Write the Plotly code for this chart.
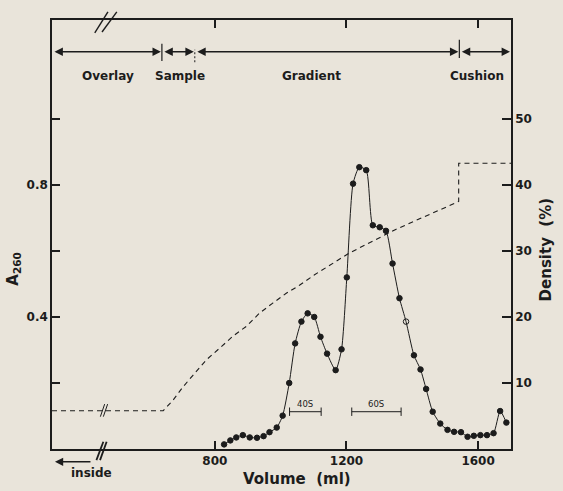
import plotly.graph_objects as go

# ---- data ----
volume = [828, 847, 865, 885, 906, 928, 948, 966, 988, 1006,
          1026, 1044, 1063, 1082, 1102, 1121, 1141, 1167, 1185, 1201,
          1220, 1239, 1260, 1280, 1301, 1320, 1340, 1361, 1381, 1405,
          1425, 1442, 1462, 1485, 1507, 1527, 1548, 1568, 1587, 1607,
          1627, 1647, 1667, 1686]
a260 = [0.014, 0.026, 0.035, 0.042, 0.035, 0.034, 0.039, 0.051, 0.065, 0.101,
        0.200, 0.320, 0.386, 0.411, 0.400, 0.340, 0.289, 0.239, 0.302, 0.520,
        0.804, 0.854, 0.845, 0.678, 0.672, 0.661, 0.562, 0.457, 0.386, 0.284,
        0.241, 0.182, 0.113, 0.077, 0.058, 0.052, 0.051, 0.037, 0.040, 0.042,
        0.042, 0.048, 0.115, 0.080]
open_point = 1381  # the one hollow marker

density_volume = [305, 643, 673, 703, 734, 774, 815, 855, 896, 936, 976,
                  1017, 1057, 1103, 1209, 1351, 1541, 1541, 1700]
density = [5.8, 5.8, 7.4, 9.4, 11.2, 13.5, 15.3, 17.1, 18.6, 20.6, 22.1,
           23.6, 24.8, 26.4, 29.7, 33.3, 37.5, 43.3, 43.3]

region_names = ["Overlay", "Sample", "Gradient", "Cushion"]
region_bounds = [305, 639, 739, 1543, 1700]
region_label_x = [475, 693, 1094, 1596]

marker_40S = [1027, 1123]
marker_60S = [1216, 1366]
marker_level = 0.113

x_ticks = [800, 1200, 1600]
y_ticks = [0.2, 0.4, 0.6, 0.8, 1.0]
y_ticktext = ["", "0.4", "", "0.8", ""]
y2_ticks = [10, 20, 30, 40, 50]

X_RANGE = [305, 1700]
Y_RANGE = [0, 1.3]
Y2_RANGE = [0, 65]

INK = "#1c1c1c"
PAPER = "#e9e4da"
TICKFONT = dict(family="DejaVu Sans", size=12, color=INK, weight="bold")

fig = go.Figure()

# density (dashed, right axis)
fig.add_trace(go.Scatter(x=density_volume, y=density, yaxis="y2", mode="lines",
                         line=dict(color=INK, width=1.1, dash="5px,4px"),
                         hoverinfo="skip", showlegend=False))

# A260 profile
symbols = ["circle-open" if v == open_point else "circle" for v in volume]
fig.add_trace(go.Scatter(x=volume, y=a260, mode="lines+markers",
                         line=dict(color=INK, width=1, shape="spline", smoothing=0.6),
                         marker=dict(size=5.5, color=INK, symbol=symbols,
                                     line=dict(width=1, color=INK)),
                         showlegend=False))

# 40S / 60S markers
for xs, lab in [(marker_40S, "40S"), (marker_60S, "60S")]:
    fig.add_trace(go.Scatter(x=xs, y=[marker_level] * 2, mode="lines+markers",
                             line=dict(color=INK, width=1),
                             marker=dict(symbol="line-ns", size=6,
                                         line=dict(width=1, color=INK)),
                             showlegend=False, hoverinfo="skip"))
    fig.add_annotation(x=sum(xs) / 2, y=marker_level, yshift=8, text=lab,
                       showarrow=False, font=dict(family="DejaVu Sans", size=8.5, color=INK))

annotations = []
shapes = []
ARROW_Y = 1.204
# region arrows
for i in range(4):
    a0, a1 = region_bounds[i], region_bounds[i + 1]
    annotations.append(dict(x=a1, y=ARROW_Y, ax=a0, ay=ARROW_Y, xref="x", yref="y",
                            axref="x", ayref="y", showarrow=True, text="",
                            arrowhead=2, startarrowhead=2, arrowside="end+start",
                            arrowsize=1.2, startarrowsize=1.2, arrowwidth=1.4,
                            arrowcolor=INK, standoff=1, startstandoff=1))
    annotations.append(dict(x=region_label_x[i], y=1.13, xref="x", yref="y",
                            text=region_names[i], showarrow=False,
                            font=dict(family="DejaVu Sans", size=12, color=INK, weight="bold")))
# boundary ticks
shapes.append(dict(type="line", xref="x", yref="y", x0=639, x1=639, y0=1.176, y1=1.228,
                   line=dict(color=INK, width=1.2)))
shapes.append(dict(type="line", xref="x", yref="y", x0=739, x1=739, y0=1.172, y1=1.21,
                   line=dict(color=INK, width=1, dash="2px,2px")))
shapes.append(dict(type="line", xref="x", yref="y", x0=1543, x1=1543, y0=1.185, y1=1.24,
                   line=dict(color=INK, width=1.2)))

# axis breaks
for (x0, x1, y0, y1, w) in [(435, 475, 0.970, 1.019, 1.4), (457, 502, 0.972, 1.019, 1.4),
                            (440, 461, -0.026, 0.017, 1.8), (451, 471, -0.026, 0.017, 1.8)]:
    shapes.append(dict(type="line", xref="x", yref="paper", x0=x0, x1=x1, y0=y0, y1=y1,
                       line=dict(color=INK, width=w)))
for (x0, x1) in [(452, 465), (461, 474)]:
    shapes.append(dict(type="line", xref="x", yref="y2", x0=x0, x1=x1, y0=4.9, y1=6.8,
                       line=dict(color=INK, width=1)))

# "inside" arrow
annotations.append(dict(x=314, y=-0.03, ax=37, ay=0, xref="x", yref="paper",
                        showarrow=True, text="", arrowhead=2, arrowsize=1.1,
                        arrowwidth=1.5, arrowcolor=INK))
annotations.append(dict(x=0.085, y=-0.056, xref="paper", yref="paper", text="inside",
                        showarrow=False, xanchor="center", yanchor="middle",
                        font=dict(family="DejaVu Sans", size=12, color=INK, weight="bold")))

# axis titles
annotations.append(dict(x=-0.083, y=0.42, xref="paper", yref="paper",
                        text="A<sub>260</sub>", textangle=-90, showarrow=False,
                        xanchor="center", yanchor="middle",
                        font=dict(family="DejaVu Sans", size=15, color=INK, weight="bold")))
annotations.append(dict(x=1.076, y=0.465, xref="paper", yref="paper",
                        text="Density\u00a0\u00a0(%)", textangle=-90, showarrow=False,
                        xanchor="center", yanchor="middle",
                        font=dict(family="DejaVu Sans", size=15, color=INK, weight="bold")))
annotations.append(dict(x=0.533, y=-0.07, xref="paper", yref="paper",
                        text="Volume\u00a0\u00a0(ml)", showarrow=False,
                        xanchor="center", yanchor="middle",
                        font=dict(family="DejaVu Sans", size=15, color=INK, weight="bold")))

for a in annotations:
    fig.add_annotation(**a)

fig.update_layout(
    width=563, height=491,
    margin=dict(l=52, r=52, t=20, b=42),
    paper_bgcolor=PAPER, plot_bgcolor=PAPER,
    shapes=shapes,
    xaxis=dict(range=X_RANGE, tickvals=x_ticks, ticks="inside", ticklen=8, tickwidth=1.5,
               tickcolor=INK, showline=True, linecolor=INK, linewidth=1.5, mirror="ticks",
               showgrid=False, zeroline=False, tickfont=TICKFONT),
    yaxis=dict(range=Y_RANGE, tickvals=y_ticks, ticktext=y_ticktext, ticks="inside",
               ticklen=8, tickwidth=1.5, tickcolor=INK, showline=True, linecolor=INK,
               linewidth=1.5, showgrid=False, zeroline=False, tickfont=TICKFONT),
    yaxis2=dict(range=Y2_RANGE, overlaying="y", side="right", tickvals=y2_ticks,
                ticks="inside", ticklen=9, tickwidth=1.5, tickcolor=INK, showline=True,
                linecolor=INK, linewidth=1.5, showgrid=False, zeroline=False,
                tickfont=TICKFONT),
)

fig.write_html("out.html", config={"displayModeBar": False},
               post_script="document.body.style.margin='0';"
                           "document.body.style.background='" + PAPER + "';")
